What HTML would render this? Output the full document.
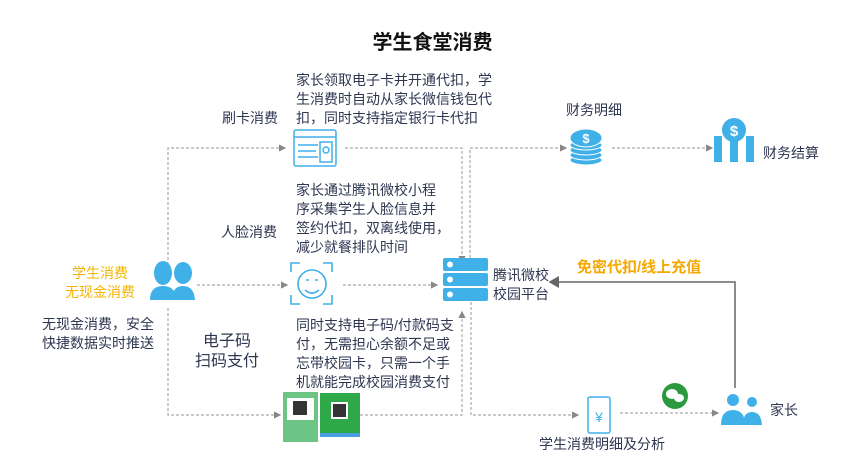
<!DOCTYPE html>
<html><head><meta charset="utf-8"><style>
body{margin:0;width:865px;height:467px;background:#fff;position:relative;overflow:hidden;font-family:"Liberation Sans","Noto Sans CJK SC",sans-serif;color:#2e3650}
.t{position:absolute;font-size:14px;line-height:19px;white-space:nowrap}
svg{position:absolute;left:0;top:0}
</style></head><body>
<svg width="865" height="467">
<defs><marker id="a" markerWidth="6" markerHeight="6" refX="5" refY="3" orient="auto"><path d="M0,0L6,3L0,6z" fill="#888"/></marker>
<marker id="b" markerWidth="8" markerHeight="8" refX="6" refY="4" orient="auto"><path d="M0,0L7,4L0,8z" fill="#666"/></marker></defs>
<g stroke="#aaa" stroke-width="1.2" stroke-dasharray="3,2" fill="none">
<path d="M168,270V148H285" marker-end="url(#a)"/>
<path d="M345,148H462V262" marker-end="url(#a)"/>
<path d="M197,285H287" marker-end="url(#a)"/>
<path d="M343,285H437" marker-end="url(#a)"/>
<path d="M168,308V415H280" marker-end="url(#a)"/>
<path d="M360,415H462V312" marker-end="url(#a)"/>
<path d="M470,258V148H566" marker-end="url(#a)"/>
<path d="M612,148H712" marker-end="url(#a)"/>
<path d="M471,302V415H578" marker-end="url(#a)"/>
<path d="M620,413H718" marker-end="url(#a)"/>
</g>
<path d="M735,388V282H550" stroke="#666" stroke-width="1.5" fill="none" marker-end="url(#b)"/>
<!-- card -->
<g stroke="#3fb0e8" stroke-width="1.5" fill="none"><rect x="294" y="130" width="42" height="36" rx="2"/><line x1="294" y1="137" x2="336" y2="137"/><line x1="298" y1="145" x2="318" y2="145"/><line x1="298" y1="151" x2="316" y2="151"/><line x1="298" y1="157" x2="318" y2="157"/><rect x="320" y="142" width="12" height="20"/><circle cx="326" cy="150" r="3"/></g>
<!-- face -->
<g stroke="#3fb0e8" stroke-width="1.6" fill="none"><path d="M291,272v-9h9M323,263h9v9M291,295v9h9M323,304h9v-9"/><circle cx="312" cy="284" r="14"/><path d="M305,290q7,6 14,0M306,280h3M315,280h3"/></g>
<!-- left person -->
<g fill="#3fb0e8"><ellipse cx="163" cy="273" rx="9" ry="12"/><path d="M150,300q0-14 13-14t13,14z"/><ellipse cx="183" cy="273" rx="9" ry="11"/><path d="M172,300q0-14 11-14t12,14z"/></g>
<!-- server -->
<g fill="#3fb0e8"><rect x="443" y="258" width="45" height="13" rx="2"/><rect x="443" y="273" width="45" height="13" rx="2"/><rect x="443" y="288" width="45" height="13" rx="2"/></g>
<g fill="#fff"><circle cx="450" cy="264.5" r="3"/><circle cx="450" cy="279.5" r="3"/><circle cx="450" cy="294.5" r="3"/></g>
<!-- coins -->
<g fill="#3fb0e8" stroke="#fff" stroke-width="1"><ellipse cx="586" cy="160" rx="16" ry="5"/><ellipse cx="586" cy="155" rx="16" ry="5"/><ellipse cx="586" cy="150" rx="16" ry="5"/><ellipse cx="586" cy="145" rx="16" ry="5"/><ellipse cx="586" cy="138" rx="16" ry="9"/></g>
<text x="586" y="143" fill="#fff" font-size="13" text-anchor="middle" font-weight="bold">$</text>
<!-- bank -->
<g fill="#3fb0e8"><rect x="714" y="136" width="8" height="26"/><rect x="730" y="140" width="8" height="22"/><rect x="746" y="136" width="8" height="26"/><circle cx="734" cy="130" r="12"/></g>
<text x="734" y="136" fill="#fff" font-size="15" text-anchor="middle" font-weight="bold">$</text>
<!-- yen -->
<rect x="588" y="397" width="22" height="36" rx="2" stroke="#3fb0e8" stroke-width="1.5" fill="none"/>
<text x="599" y="422" fill="#3fb0e8" font-size="14" text-anchor="middle">¥</text>
<circle cx="675" cy="396" r="13" fill="#2b9a3f"/><ellipse cx="672" cy="394" rx="6" ry="5" fill="#fff"/><ellipse cx="679" cy="398" rx="5" ry="4" fill="#fff"/>
<!-- parent -->
<g fill="#3fb0e8"><circle cx="733" cy="400" r="6"/><path d="M721,425q0-15 12-15t12,15z"/><circle cx="752" cy="402" r="5"/><path d="M743,425q0-13 9-13t10,13z"/></g>
<!-- QR -->
<rect x="283" y="392" width="35" height="50" fill="#6cc585"/><rect x="287" y="398" width="27" height="22" fill="#fff"/><rect x="293" y="401" width="14" height="14" fill="#333"/>
<rect x="320" y="393" width="40" height="40" fill="#2fa84a"/><rect x="331" y="402" width="17" height="17" fill="#fff"/><rect x="333" y="404" width="13" height="13" fill="#333"/><rect x="320" y="433" width="40" height="4" fill="#4a9de0"/>
</svg>
<div class="t" style="left:0;width:865px;text-align:center;top:30px;font-size:20px;font-weight:bold;color:#111;line-height:26px">学生食堂消费</div>
<div class="t" style="left:296px;top:71px">家长领取电子卡并开通代扣，学<br>生消费时自动从家长微信钱包代<br>扣，同时支持指定银行卡代扣</div>
<div class="t" style="left:222px;top:109px">刷卡消费</div>
<div class="t" style="left:296px;top:181px">家长通过腾讯微校小程<br>序采集学生人脸信息并<br>签约代扣，双离线使用，<br>减少就餐排队时间</div>
<div class="t" style="left:221px;top:223px">人脸消费</div>
<div class="t" style="left:296px;top:316px">同时支持电子码/付款码支<br>付，无需担心余额不足或<br>忘带校园卡，只需一个手<br>机就能完成校园消费支付</div>
<div class="t" style="left:195px;top:332px;font-size:16px;line-height:20px;text-align:center">电子码<br>扫码支付</div>
<div class="t" style="left:62px;top:264px;width:76px;text-align:center;color:#f5b400">学生消费<br>无现金消费</div>
<div class="t" style="left:42px;top:315px">无现金消费，安全<br>快捷数据实时推送</div>
<div class="t" style="left:493px;top:266px">腾讯微校<br>校园平台</div>
<div class="t" style="left:566px;top:101px">财务明细</div>
<div class="t" style="left:763px;top:144px">财务结算</div>
<div class="t" style="left:577px;top:258px;font-size:15px;font-weight:bold;color:#f5a800">免密代扣/线上充值</div>
<div class="t" style="left:539px;top:435px">学生消费明细及分析</div>
<div class="t" style="left:770px;top:401px">家长</div>
</body></html>
